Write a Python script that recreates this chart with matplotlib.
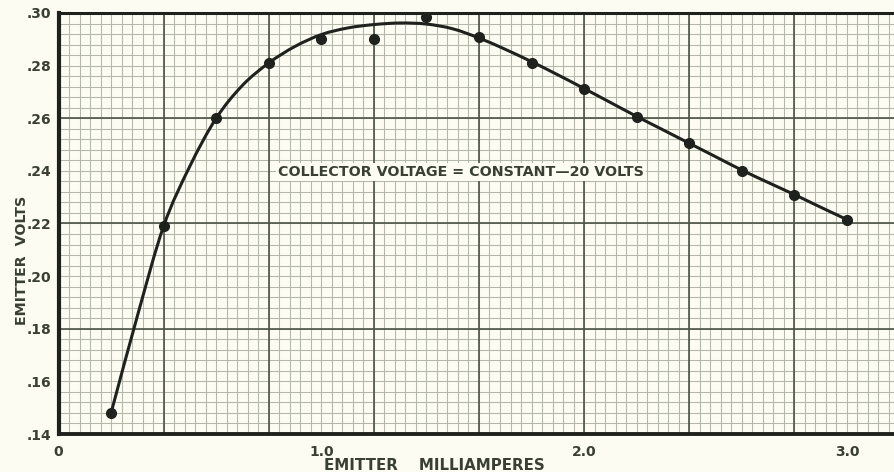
import numpy as np
import matplotlib.pyplot as plt
from matplotlib.path import Path
from matplotlib.patches import PathPatch

# measured points: emitter current (mA) vs emitter voltage (V)
current_ma = [0.2, 0.4, 0.6, 0.8, 1.0, 1.2, 1.4, 1.6, 1.8, 2.0, 2.2, 2.4, 2.6, 2.8, 3.0]
emitter_v = [0.148, 0.219, 0.260, 0.281, 0.290, 0.2902, 0.2985, 0.291, 0.281, 0.271,
             0.2605, 0.2505, 0.240, 0.231, 0.2215]

# faired curve drawn by hand through the points, read every 0.1 mA
curve_ma = [0.2, 0.3, 0.4, 0.5, 0.6, 0.7, 0.8, 0.9, 1.0, 1.1, 1.2, 1.3, 1.4, 1.5,
            1.6, 1.7, 1.8, 1.9, 2.0, 2.1, 2.2, 2.3, 2.4, 2.5, 2.6, 2.7, 2.8, 2.9, 3.0]
curve_v = [0.148, 0.1848, 0.219, 0.2418, 0.2600, 0.2725, 0.2810, 0.2873, 0.2918,
           0.2943, 0.2956, 0.2962, 0.2958, 0.2940, 0.2905, 0.2862, 0.2815, 0.2765,
           0.2713, 0.2660, 0.2607, 0.2556, 0.2505, 0.2454, 0.2403, 0.2356, 0.2310,
           0.2262, 0.2215]

x_ticks = [0, 1, 2, 3]
x_tick_labels = ["0", "1.0", "2.0", "3.0"]
y_ticks = [0.14, 0.16, 0.18, 0.20, 0.22, 0.24, 0.26, 0.28, 0.30]
y_tick_labels = [".14", ".16", ".18", ".20", ".22", ".24", ".26", ".28", ".30"]

paper = "#fcfcf2"
ink = "#1f221c"
text_col = "#3a3f33"
major_col = "#4c5347"
minor_col = "#b3b8aa"

fig = plt.figure(figsize=(8.94, 4.72), dpi=100, facecolor=paper)
W, H = 894, 472
ax = fig.add_axes([58.5 / W, (H - 434) / H, (W - 58.5) / W, (434 - 13) / H])
ax.set_facecolor(paper)
ax.set_xlim(0, (W - 58.5) / 262.8)
ax.set_ylim(0.14, 0.30)

# graph paper: fine rulings then heavy rulings
for xv in np.arange(0, 3.3, 0.04):
    ax.axvline(xv, color=minor_col, lw=0.75, zorder=1)
for yv in np.arange(0.14, 0.3001, 0.004):
    ax.axhline(yv, color=minor_col, lw=0.75, zorder=1)
for xv in np.arange(0, 3.3, 0.4):
    ax.axvline(xv, color=major_col, lw=1.2, zorder=2)
for yv in np.arange(0.14, 0.3001, 0.04):
    ax.axhline(yv, color=major_col, lw=1.2, zorder=2)

# smooth curve: Catmull-Rom segments turned into cubic Bezier pieces
pts = np.column_stack([curve_ma, curve_v])
ext = np.vstack([2 * pts[0] - pts[1], pts, 2 * pts[-1] - pts[-2]])
verts = [pts[0]]
codes = [Path.MOVETO]
for i in range(1, len(ext) - 2):
    p0, p1, p2, p3 = ext[i - 1], ext[i], ext[i + 1], ext[i + 2]
    verts += [p1 + (p2 - p0) / 6, p2 - (p3 - p1) / 6, p2]
    codes += [Path.CURVE4] * 3
ax.add_patch(PathPatch(Path(verts, codes), fill=False, edgecolor=ink, lw=2.2,
                       capstyle="round", zorder=4))

ax.plot(current_ma, emitter_v, "o", color=ink, markersize=7, zorder=5)

ax.text(1.53, 0.2395, "COLLECTOR VOLTAGE = CONSTANT\u201420 VOLTS", ha="center",
        va="center", fontsize=10.3, fontweight="bold", color=text_col, zorder=6,
        bbox=dict(facecolor=paper, edgecolor="none", pad=1.5))

for side in ["left", "bottom", "top"]:
    ax.spines[side].set_color(ink)
ax.spines["left"].set_linewidth(3.0)
ax.spines["bottom"].set_linewidth(2.8)
ax.spines["top"].set_linewidth(2.2)
ax.spines["right"].set_visible(False)
for sp in ax.spines.values():
    sp.set_zorder(7)

ax.set_xticks(x_ticks)
ax.set_xticklabels(x_tick_labels)
ax.set_yticks(y_ticks)
ax.set_yticklabels(y_tick_labels)
ax.tick_params(length=0, labelsize=10, labelcolor=text_col)
ax.tick_params(axis="x", pad=8)
ax.tick_params(axis="y", pad=5)
for lab in ax.get_xticklabels() + ax.get_yticklabels():
    lab.set_fontweight("bold")

fig.text(22 / W, 1 - 260 / H, "EMITTER  VOLTS", rotation=90, ha="center", va="center",
         fontsize=10.3, fontweight="bold", color=text_col)
fig.text(434 / W, 1 - 465 / H, "EMITTER    MILLIAMPERES", ha="center", va="center",
         fontsize=10.8, fontweight="bold", color=text_col)

fig.savefig("out.png", dpi=100, facecolor=paper)
